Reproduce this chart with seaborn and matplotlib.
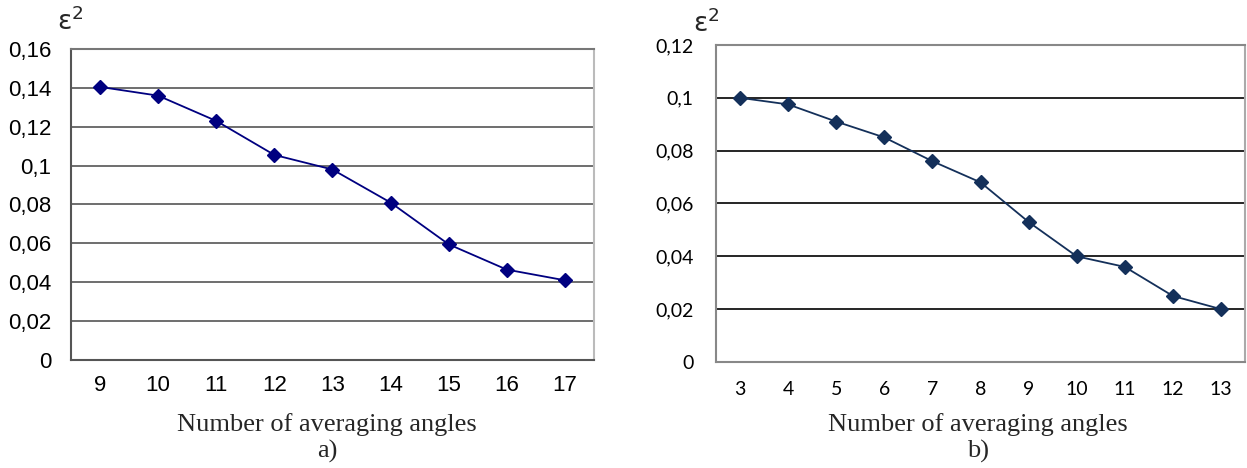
import matplotlib
matplotlib.use("Agg")
import matplotlib.pyplot as plt
import seaborn as sns
import numpy as np
import pandas as pd
from matplotlib.ticker import FixedLocator

# Data
angles_a = [9, 10, 11, 12, 13, 14, 15, 16, 17]
eps_a = [0.1405, 0.136, 0.123, 0.1055, 0.098, 0.081, 0.0595, 0.0465, 0.041]
angles_b = [3, 4, 5, 6, 7, 8, 9, 10, 11, 12, 13]
eps_b = [0.100, 0.0975, 0.091, 0.085, 0.076, 0.068, 0.053, 0.040, 0.036, 0.025, 0.020]
yticks_a = [0, 0.02, 0.04, 0.06, 0.08, 0.10, 0.12, 0.14, 0.16]
ytick_labels_a = ["0", "0,02", "0,04", "0,06", "0,08", "0,1", "0,12", "0,14", "0,16"]
yticks_b = [0, 0.02, 0.04, 0.06, 0.08, 0.10, 0.12]
ytick_labels_b = ["0", "0,02", "0,04", "0,06", "0,08", "0,1", "0,12"]
xlabel = "Number of averaging angles"

sns.set_theme(style="white")
plt.rcParams["mathtext.fontset"] = "custom"
plt.rcParams["mathtext.rm"] = "Liberation Sans"
plt.rcParams["mathtext.it"] = "Liberation Sans"

fig = plt.figure(figsize=(12.47, 4.68), dpi=100)
ax1 = fig.add_axes([0.0569, 0.2308, 0.4194, 0.6645])
ax2 = fig.add_axes([0.5742, 0.2265, 0.4242, 0.6774])

df_a = pd.DataFrame({"x": [str(v) for v in angles_a], "y": eps_a})
df_b = pd.DataFrame({"x": [str(v) for v in angles_b], "y": eps_b})

sns.pointplot(data=df_a, x="x", y="y", ax=ax1, color="#000080", markers="D",
              markersize=7.5, linewidth=1.3, errorbar=None)
sns.pointplot(data=df_b, x="x", y="y", ax=ax2, color="#14305a", markers="D",
              markersize=7.5, linewidth=1.3, errorbar=None)

def style(ax, n, yticks, ylabels, grid_color, tickfont, tfs, spine_color, right_color, top_color, xpad, ypad):
    ax.set_xlim(-0.5, n - 0.5)
    ax.set_ylim(yticks[0], yticks[-1])
    ax.set_yticks(yticks)
    ax.set_yticklabels(ylabels, fontfamily=tickfont, fontsize=tfs, color="black")
    for lab in ax.get_xticklabels():
        lab.set_fontfamily(tickfont)
        lab.set_fontsize(tfs)
        lab.set_color("black")
    ax.xaxis.set_minor_locator(FixedLocator(np.arange(-0.5, n, 1.0)))
    ax.tick_params(axis="x", which="major", length=0, pad=xpad)
    ax.tick_params(axis="x", which="minor", length=6, width=1.2, color=spine_color, direction="out")
    ax.tick_params(axis="y", which="major", length=6, width=1.2, color=spine_color, direction="out", pad=ypad)
    for yv in yticks[1:-1]:
        ax.axhline(yv, color=grid_color, lw=1.2, zorder=0)
    ax.spines["left"].set_color(spine_color)
    ax.spines["left"].set_linewidth(1.5)
    ax.spines["bottom"].set_color(spine_color)
    ax.spines["bottom"].set_linewidth(1.5)
    ax.spines["right"].set_color(right_color)
    ax.spines["right"].set_linewidth(1.5)
    ax.spines["top"].set_color(top_color)
    ax.spines["top"].set_linewidth(1.5)
    for s in ax.spines.values():
        s.set_visible(True)
    ax.set_xlabel("")
    ax.set_ylabel("")

style(ax1, len(angles_a), yticks_a, ytick_labels_a, "#555555", "Liberation Sans", 16,
      "#555555", "#bbbbbb", "#777777", 11, 8)
style(ax2, len(angles_b), yticks_b, ytick_labels_b, "#000000", "Lato", 14,
      "#888888", "#aaaaaa", "#888888", 14, 10)

# x labels and captions
fig.text(0.2625, 0.092, xlabel, ha="center", va="center", family="Liberation Serif", fontsize=19)
fig.text(0.2625, 0.036, "a)", ha="center", va="center", family="Liberation Serif", fontsize=19)
fig.text(0.784, 0.092, xlabel, ha="center", va="center", family="Liberation Serif", fontsize=19)
fig.text(0.784, 0.036, "b)", ha="center", va="center", family="Liberation Serif", fontsize=19)

# epsilon^2 labels
fig.text(0.056, 0.953, r"$\mathregular{\epsilon^2}$", ha="center", va="center", fontsize=19)
fig.text(0.566, 0.949, r"$\mathregular{\epsilon^2}$", ha="center", va="center", fontsize=19)

fig.savefig("out.png", dpi=100)
